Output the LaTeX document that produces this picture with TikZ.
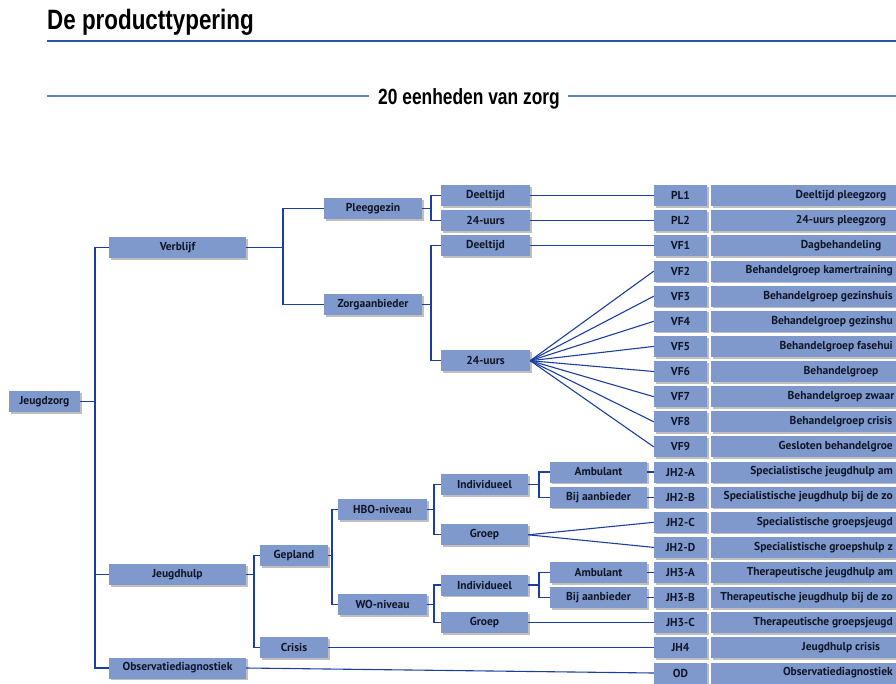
\documentclass[tikz,border=0pt]{standalone}
\usepackage{fontspec}
\usepackage{xcolor}
\usetikzlibrary{shadows}
\newfontfamily\titlefont{Liberation Sans}
\newfontfamily\boxfont{PT Sans}
\definecolor{boxblue}{RGB}{127,153,204}
\definecolor{linkblue}{RGB}{28,62,160}
\definecolor{ruleblue}{RGB}{46,84,164}
\definecolor{rulelight}{RGB}{92,128,198}
\definecolor{textdark}{RGB}{16,22,40}

\begin{document}
\begin{tikzpicture}[x=1pt, y=-1pt,
  box/.style={fill=boxblue, drop shadow={shadow xshift=1.6pt, shadow yshift=-1.6pt, opacity=.5},
    minimum height=21pt, inner sep=0pt, text=textdark,
    font=\boxfont\bfseries\fontsize{11.5pt}{13pt}\selectfont},
  codebox/.style={box, minimum width=53pt},
  descbox/.style={box, minimum width=260pt},
  desctext/.style={inner sep=0pt, text=textdark, font=\boxfont\bfseries\fontsize{11.5pt}{13pt}\selectfont},
  link/.style={draw=linkblue, line width=1.1pt}]
\useasboundingbox (0,0) rectangle (896,683);
\clip (0,0) rectangle (896,683);
% heading
\node[anchor=base west, inner sep=0pt, font=\titlefont\bfseries\fontsize{28pt}{30pt}\selectfont] (title) at (47,29) {\scalebox{0.8}[1]{De producttypering}};
\draw[ruleblue, line width=2pt] (47,41) -- (896,41);
\node[anchor=base, inner sep=0pt, font=\titlefont\bfseries\fontsize{22pt}{24pt}\selectfont] (sub) at (469,104) {\scalebox{0.79}[1]{20 eenheden van zorg}};
\draw[rulelight, line width=1.6pt] (47,96) -- (369,96);
\draw[rulelight, line width=1.6pt] (568,96) -- (896,96);
% Jeugdzorg
\node[box, minimum width=71pt] (jz) at (44.5,401.5) {Jeugdzorg};
\node[box, minimum width=137pt] (vb) at (177.5,247.5) {Verblijf};
\node[box, minimum width=137pt] (jh) at (177.5,574.5) {Jeugdhulp};
\node[box, minimum width=137pt] (od) at (177.5,668) {Observatiediagnostiek};
\coordinate (jzfork) at (95,401.5);
\draw[link] (jz.east) -- (jzfork) |- (vb.west);
\draw[link] (jzfork) |- (jh.west);
\draw[link] (jzfork) |- (od.west);
% Verblijf
\node[box, minimum width=98pt] (pg) at (373,208.5) {Pleeggezin};
\node[box, minimum width=98pt] (za) at (373,304.5) {Zorgaanbieder};
\coordinate (vbfork) at (283,247.5);
\draw[link] (vb.east) -- (vbfork) |- (pg.west);
\draw[link] (vbfork) |- (za.west);
\node[box, minimum width=89pt] (pgd) at (485.5,195.7) {Deeltijd};
\node[box, minimum width=89pt] (pg24) at (485.5,220.8) {24-uurs};
\coordinate (pgfork) at (431,208.5);
\draw[link] (pg.east) -- (pgfork) |- (pgd.west);
\draw[link] (pgfork) |- (pg24.west);
\node[box, minimum width=89pt] (zad) at (485.5,245.9) {Deeltijd};
\node[box, minimum width=89pt] (za24) at (485.5,360.7) {24-uurs};
\coordinate (zafork) at (431,304.5);
\draw[link] (za.east) -- (zafork) |- (zad.west);
\draw[link] (zafork) |- (za24.west);
% Jeugdhulp
\node[box, minimum width=68pt] (gp) at (294,555.5) {Gepland};
\node[box, minimum width=68pt] (cr) at (294,647.9) {Crisis};
\coordinate (jhfork) at (254,574.5);
\draw[link] (jh.east) -- (jhfork) |- (gp.west);
\draw[link] (jhfork) |- (cr.west);
\node[box, minimum width=89pt] (hbo) at (382.5,509.5) {HBO-niveau};
\node[box, minimum width=89pt] (wo) at (382.5,604.5) {WO-niveau};
\coordinate (gpfork) at (332,555.5);
\draw[link] (gp.east) -- (gpfork) |- (hbo.west);
\draw[link] (gpfork) |- (wo.west);
\node[box, minimum width=87pt] (hboi) at (484.5,484.6) {Individueel};
\node[box, minimum width=87pt] (hbog) at (484.5,534.8) {Groep};
\coordinate (hbofork) at (434,509.5);
\draw[link] (hbo.east) -- (hbofork) |- (hboi.west);
\draw[link] (hbofork) |- (hbog.west);
\node[box, minimum width=87pt] (woi) at (484.5,585) {Individueel};
\node[box, minimum width=87pt] (wog) at (484.5,622.7) {Groep};
\coordinate (wofork) at (434,604.5);
\draw[link] (wo.east) -- (wofork) |- (woi.west);
\draw[link] (wofork) |- (wog.west);
\node[box, minimum width=97pt] (hboa) at (598.5,472) {Ambulant};
\node[box, minimum width=97pt] (hbob) at (598.5,497.1) {Bij aanbieder};
\coordinate (hboifork) at (539,484.6);
\draw[link] (hboi.east) -- (hboifork) |- (hboa.west);
\draw[link] (hboifork) |- (hbob.west);
\node[box, minimum width=97pt] (woa) at (598.5,572.5) {Ambulant};
\node[box, minimum width=97pt] (wob) at (598.5,597.6) {Bij aanbieder};
\coordinate (woifork) at (539,585);
\draw[link] (woi.east) -- (woifork) |- (woa.west);
\draw[link] (woifork) |- (wob.west);
% codes
\node[codebox] (c0) at (680.5,195.7) {PL1};
\node[codebox] (c1) at (680.5,220.8) {PL2};
\node[codebox] (c2) at (680.5,245.9) {VF1};
\node[codebox] (c3) at (680.5,271.1) {VF2};
\node[codebox] (c4) at (680.5,296.2) {VF3};
\node[codebox] (c5) at (680.5,321.3) {VF4};
\node[codebox] (c6) at (680.5,346.4) {VF5};
\node[codebox] (c7) at (680.5,371.5) {VF6};
\node[codebox] (c8) at (680.5,396.7) {VF7};
\node[codebox] (c9) at (680.5,421.8) {VF8};
\node[codebox] (c10) at (680.5,446.9) {VF9};
\node[codebox] (c11) at (680.5,472.0) {JH2-A};
\node[codebox] (c12) at (680.5,497.1) {JH2-B};
\node[codebox] (c13) at (680.5,522.3) {JH2-C};
\node[codebox] (c14) at (680.5,547.4) {JH2-D};
\node[codebox] (c15) at (680.5,572.5) {JH3-A};
\node[codebox] (c16) at (680.5,597.6) {JH3-B};
\node[codebox] (c17) at (680.5,622.7) {JH3-C};
\node[codebox] (c18) at (680.5,647.9) {JH4};
\node[codebox] (c19) at (680.5,673.0) {OD};
% links to codes
\draw[link] (pgd.east) -- (c0.west);
\draw[link] (pg24.east) -- (c1.west);
\draw[link] (zad.east) -- (c2.west);
\draw[link] (za24.east) -- (c3.west);
\draw[link] (za24.east) -- (c4.west);
\draw[link] (za24.east) -- (c5.west);
\draw[link] (za24.east) -- (c6.west);
\draw[link] (za24.east) -- (c7.west);
\draw[link] (za24.east) -- (c8.west);
\draw[link] (za24.east) -- (c9.west);
\draw[link] (za24.east) -- (c10.west);
\draw[link] (hboa.east) -- (c11.west);
\draw[link] (hbob.east) -- (c12.west);
\draw[link] (hbog.east) -- (c13.west);
\draw[link] (hbog.east) -- (c14.west);
\draw[link] (woa.east) -- (c15.west);
\draw[link] (wob.east) -- (c16.west);
\draw[link] (wog.east) -- (c17.west);
\draw[link] (cr.east) -- (c18.west);
\draw[link] (od.east) -- (c19.west);
% descriptions
\node[descbox] (d0) at (841,195.7) {};
\node[descbox] (d1) at (841,220.8) {};
\node[descbox] (d2) at (841,245.9) {};
\node[descbox] (d3) at (841,271.1) {};
\node[descbox] (d4) at (841,296.2) {};
\node[descbox] (d5) at (841,321.3) {};
\node[descbox] (d6) at (841,346.4) {};
\node[descbox] (d7) at (841,371.5) {};
\node[descbox] (d8) at (841,396.7) {};
\node[descbox] (d9) at (841,421.8) {};
\node[descbox] (d10) at (841,446.9) {};
\node[descbox] (d11) at (841,472.0) {};
\node[descbox] (d12) at (841,497.1) {};
\node[descbox] (d13) at (841,522.3) {};
\node[descbox] (d14) at (841,547.4) {};
\node[descbox] (d15) at (841,572.5) {};
\node[descbox] (d16) at (841,597.6) {};
\node[descbox] (d17) at (841,622.7) {};
\node[descbox] (d18) at (841,647.9) {};
\node[descbox] (d19) at (841,673.0) {};
\node[desctext] (t0) at (d0) {Deeltijd pleegzorg};
\node[desctext] (t1) at (d1) {24-uurs pleegzorg};
\node[desctext] (t2) at (d2) {Dagbehandeling};
\node[desctext, anchor=east] (t3) at (893,271.1) {Behandelgroep kamertraining};
\node[desctext, anchor=east] (t4) at (893,296.2) {Behandelgroep gezinshuis};
\node[desctext, anchor=east] (t5) at (893,321.3) {Behandelgroep gezinshu};
\node[desctext, anchor=east] (t6) at (893,346.4) {Behandelgroep fasehui};
\node[desctext] (t7) at (d7) {Behandelgroep};
\node[desctext] (t8) at (d8) {Behandelgroep zwaar};
\node[desctext] (t9) at (d9) {Behandelgroep crisis};
\node[desctext, anchor=east] (t10) at (893,446.9) {Gesloten behandelgroe};
\node[desctext, anchor=east] (t11) at (893,472.0) {Specialistische jeugdhulp am};
\node[desctext, anchor=east] (t12) at (893,497.1) {Specialistische jeugdhulp bij de zo};
\node[desctext, anchor=east] (t13) at (893,522.3) {Specialistische groepsjeugd};
\node[desctext, anchor=east] (t14) at (893,547.4) {Specialistische groepshulp z};
\node[desctext, anchor=east] (t15) at (893,572.5) {Therapeutische jeugdhulp am};
\node[desctext, anchor=east] (t16) at (893,597.6) {Therapeutische jeugdhulp bij de zo};
\node[desctext, anchor=east] (t17) at (893,622.7) {Therapeutische groepsjeugd};
\node[desctext] (t18) at (d18) {Jeugdhulp crisis};
\node[desctext, anchor=east] (t19) at (893,673.0) {Observatiediagnostiek};
\end{tikzpicture}
\end{document}
